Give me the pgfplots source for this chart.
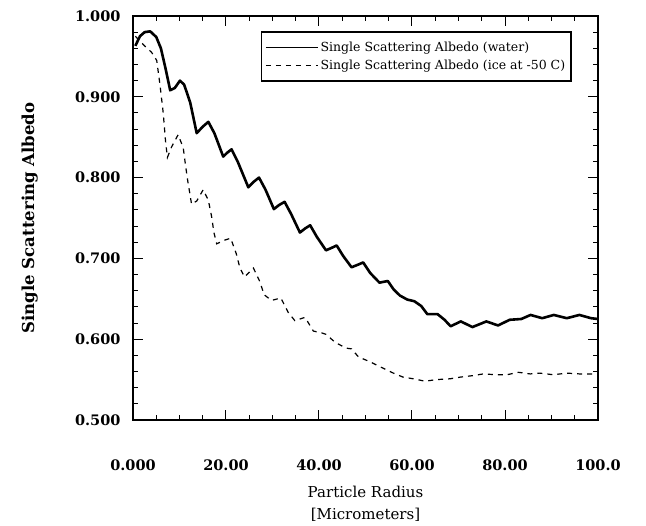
\documentclass[border=0pt]{standalone}
\usepackage{fontspec}
\setmainfont{DejaVu Serif}
\usepackage{pgfplots}
\pgfplotsset{compat=1.18}
\begin{document}
\begin{tikzpicture}[x=1pt,y=1pt]
\useasboundingbox (-133,-106) rectangle (513,420);
\begin{axis}[
  at={(0,0)}, anchor=south west,
  scale only axis, width=465pt, height=404pt,
  xmin=0, xmax=100, ymin=0.5, ymax=1.0,
  xtick={0,20,40,60,80,100},
  xticklabels={0.000,20.00,40.00,60.00,80.00,100.0},
  ytick={0.5,0.6,0.7,0.8,0.9,1.0},
  yticklabels={0.500,0.600,0.700,0.800,0.900,1.000},
  minor x tick num=3, minor y tick num=4,
  tick align=inside, tick pos=both,
  major tick length=10pt, minor tick length=5pt,
  every tick/.style={black, line width=1pt},
  axis line style={line width=1.3pt},
  tick label style={font=\fontsize{14.5}{17}\selectfont\bfseries},
  xticklabel style={yshift=-36pt},
  yticklabel style={xshift=-9pt},
  xlabel={Particle Radius\\{[}Micrometers{]}},
  xlabel style={at={(axis description cs:0.5,-0.208)}, anchor=center, align=center, font=\fontsize{15}{22}\selectfont},
  ylabel={Single Scattering Albedo},
  ylabel style={at={(axis description cs:-0.222,0.5)}, anchor=center, font=\fontsize{16.5}{18}\selectfont\bfseries},
  legend style={at={(0.944,0.963)}, anchor=north east, draw=black, line width=1.6pt,
    font=\fontsize{12.5}{14}\selectfont, inner xsep=4pt, inner ysep=8pt, row sep=3pt, cells={anchor=west}},
  legend image code/.code={\draw[#1, line width=1.2pt] (0pt,0pt) -- (52pt,0pt);},
]
\addplot[black, line width=2.6pt, line join=round] coordinates {
(0.5,0.963)(1.5,0.975)(2.5,0.980)(3.7,0.981)(5,0.974)(6,0.960)(7,0.935)(8,0.908)(9,0.911)(10.1,0.920)(11,0.915)(12.3,0.893)(13.7,0.855)(15,0.863)(16.2,0.869)(17.5,0.855)(19.4,0.826)(20.3,0.831)(21.2,0.835)(22.5,0.820)(24.8,0.788)(26,0.795)(27.1,0.800)(28.5,0.785)(30.3,0.761)(31.4,0.766)(32.6,0.770)(34,0.755)(35.9,0.732)(37,0.737)(38.1,0.741)(39.5,0.727)(41.5,0.710)(42.7,0.713)(43.8,0.716)(45.2,0.703)(47.0,0.689)(48.3,0.692)(49.5,0.695)(51,0.682)(53.0,0.670)(54.8,0.672)(56,0.662)(57.4,0.654)(59,0.649)(60.5,0.647)(62,0.641)(63.3,0.631)(65.5,0.631)(67,0.624)(68.3,0.616)(70.5,0.622)(73,0.615)(76,0.622)(78.5,0.617)(81,0.624)(83.5,0.625)(85.5,0.630)(88,0.626)(90.5,0.630)(93.3,0.626)(96,0.630)(98.5,0.626)(100,0.625)
};
\addlegendentry{Single Scattering Albedo (water)}
\addplot[black, line width=1.2pt, dash pattern=on 5pt off 5pt] coordinates {
(0.5,0.975)(2.5,0.963)(4,0.955)(5.1,0.945)(5.8,0.915)(6.5,0.880)(7.0,0.845)(7.4,0.825)(8.3,0.838)(9.7,0.853)(10.8,0.837)(11.3,0.815)(11.8,0.795)(12.6,0.767)(13.7,0.771)(15.1,0.785)(16.2,0.772)(16.9,0.752)(17.4,0.732)(18.0,0.718)(19.4,0.722)(21.0,0.725)(22.2,0.706)(23.0,0.688)(24.0,0.677)(25.9,0.688)(27.3,0.671)(28.2,0.655)(29.8,0.648)(31.8,0.651)(33.4,0.633)(34.8,0.623)(37,0.627)(38.8,0.610)(40.5,0.608)(41.5,0.606)(43.5,0.596)(45.8,0.589)(47,0.588)(48.5,0.578)(51,0.572)(53.1,0.566)(56,0.558)(58.1,0.553)(60.3,0.551)(62.8,0.548)(65.3,0.550)(68.2,0.551)(70.3,0.553)(73.2,0.555)(75.3,0.557)(78.2,0.556)(80.4,0.556)(82.9,0.559)(85.4,0.557)(87.5,0.558)(90.4,0.556)(93.3,0.558)(96.1,0.557)(98.3,0.557)(100,0.557)
};
\addlegendentry{Single Scattering Albedo (ice at -50 C)}
\end{axis}
\end{tikzpicture}
\end{document}
